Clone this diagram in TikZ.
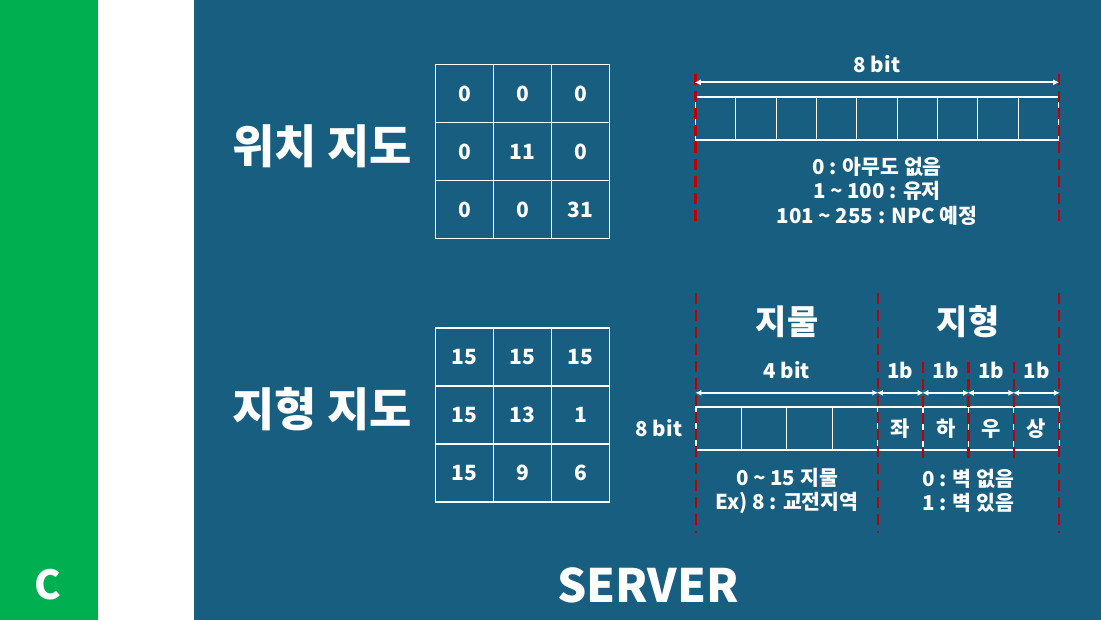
\documentclass[tikz,border=0pt]{standalone}
\usepackage{fontspec}
\setmainfont{Noto Sans CJK KR}
\usetikzlibrary{arrows.meta}
\definecolor{slideblue}{RGB}{23,94,129}
\definecolor{slidegreen}{RGB}{0,176,80}
\definecolor{cutred}{RGB}{192,0,0}
\tikzstyle{cellbox} = [draw=white, line width=1.3pt, minimum size=58pt,
    inner sep=0pt, text=white, font=\fontsize{21}{21}\selectfont\bfseries]
\tikzstyle{bitbox} = [draw=white, line width=1.3pt, minimum height=43pt,
    inner sep=0pt, text=white, font=\fontsize{21}{21}\selectfont\bfseries]
\tikzstyle{cutline} = [cutred, line width=2.5pt, dash pattern=on 11pt off 6pt]
\tikzstyle{span} = [white, line width=1.9pt, {Latex[length=6pt,width=6pt]}-{Latex[length=6pt,width=6pt]}]
\tikzstyle{note} = [text=white, align=center, inner sep=0pt,
    font=\fontsize{20.5}{24.5}\selectfont\bfseries]
\tikzstyle{bigtitle} = [text=white, inner sep=0pt, font=\fontsize{46}{46}\selectfont\bfseries]
\tikzstyle{parttitle} = [text=white, inner sep=0pt, font=\fontsize{34}{34}\selectfont\bfseries]

\begin{document}
\begin{tikzpicture}[x=1pt, y=-1pt]
    % background strips
    \fill[slidegreen] (0,0) rectangle (98,620);
    \fill[white] (98,0) rectangle (194,620);
    \fill[slideblue] (194,0) rectangle (1101,620);
    \useasboundingbox (0,0) rectangle (1101,620);
    \node[bigtitle, font=\fontsize{40}{40}\selectfont\bfseries] (side) at (48,585) {C};
    \node[bigtitle] (server) at (648,585) {SERVER};

    % position map
    \node[bigtitle] (posname) at (322,146) {위치 지도};
    \foreach \r/\a/\b/\c in {0/0/0/0, 1/0/11/0, 2/0/0/31} {
        \node[cellbox] (p\r a) at (464.5, 93.5+58*\r) {\a};
        \node[cellbox] (p\r b) at (522.5, 93.5+58*\r) {\b};
        \node[cellbox] (p\r c) at (580.5, 93.5+58*\r) {\c};
    }
    \foreach \i in {1,...,9}
        \node[bitbox, minimum width=40.33pt] (b\i) at ({695.5+40.33*(\i-0.5)},118.5) {};
    \coordinate (bltop) at (695.5,74);  \coordinate (blbot) at (695.5,227);
    \coordinate (brtop) at (1059,74);   \coordinate (brbot) at (1059,227);
    \draw[cutline] (bltop) -- (blbot);
    \draw[cutline] (brtop) -- (brbot);
    \draw[span] ([yshift=14pt]b1.north west) -- ([yshift=14pt]b9.north east)
        node[note, midway, above=9pt] (bsize) {8 bit};
    \node[note] (bnote) at (877,191) {0 : 아무도 없음\\1 \textasciitilde{} 100 : 유저\\101 \textasciitilde{} 255 : NPC 예정};

    % terrain map
    \node[bigtitle] (terrname) at (322,409) {지형 지도};
    \foreach \r/\a/\b/\c in {0/15/15/15, 1/15/13/1, 2/15/9/6} {
        \node[cellbox] (t\r a) at (464.5, 357+58*\r) {\a};
        \node[cellbox] (t\r b) at (522.5, 357+58*\r) {\b};
        \node[cellbox] (t\r c) at (580.5, 357+58*\r) {\c};
    }
    \foreach \i/\t in {1/,2/,3/,4/,5/좌,6/하,7/우,8/상}
        \node[bitbox, minimum width=45.4pt] (m\i) at ({696+45.4*(\i-0.5)},428.5) {\t};
    \node[note, left=13pt] (msize) at (m1.west) {8 bit};
    \foreach \n/\x in {la/696, lb/878, lc/1059} {
        \coordinate (\n top) at (\x,293);
        \coordinate (\n bot) at (\x,533);
        \draw[cutline] (\n top) -- (\n bot);
    }
    \foreach \n/\x in {sa/923, sb/968.5, sc/1014} {
        \coordinate (\n top) at (\x,362);
        \coordinate (\n bot) at (\x,458);
        \draw[cutline] (\n top) -- (\n bot);
    }
    \node[parttitle] (objname) at (787,322) {지물};
    \node[parttitle] (wallname) at (968,322) {지형};
    \draw[span] ([yshift=13.5pt]m1.north west) -- ([yshift=13.5pt]m4.north east)
        node[note, midway, above=13pt] (objsize) {4 bit};
    \foreach \i in {5,...,8}
        \draw[span] ([yshift=13.5pt]m\i.north west) -- ([yshift=13.5pt]m\i.north east)
            node[note, midway, above=13pt] {1b};
    \node[note] (objnote) at (787,491) {0 \textasciitilde{} 15 지물\\Ex) 8 : 교전지역};
    \node[note] (wallnote) at (968,491) {0 : 벽 없음\\1 : 벽 있음};
\end{tikzpicture}
\end{document}
